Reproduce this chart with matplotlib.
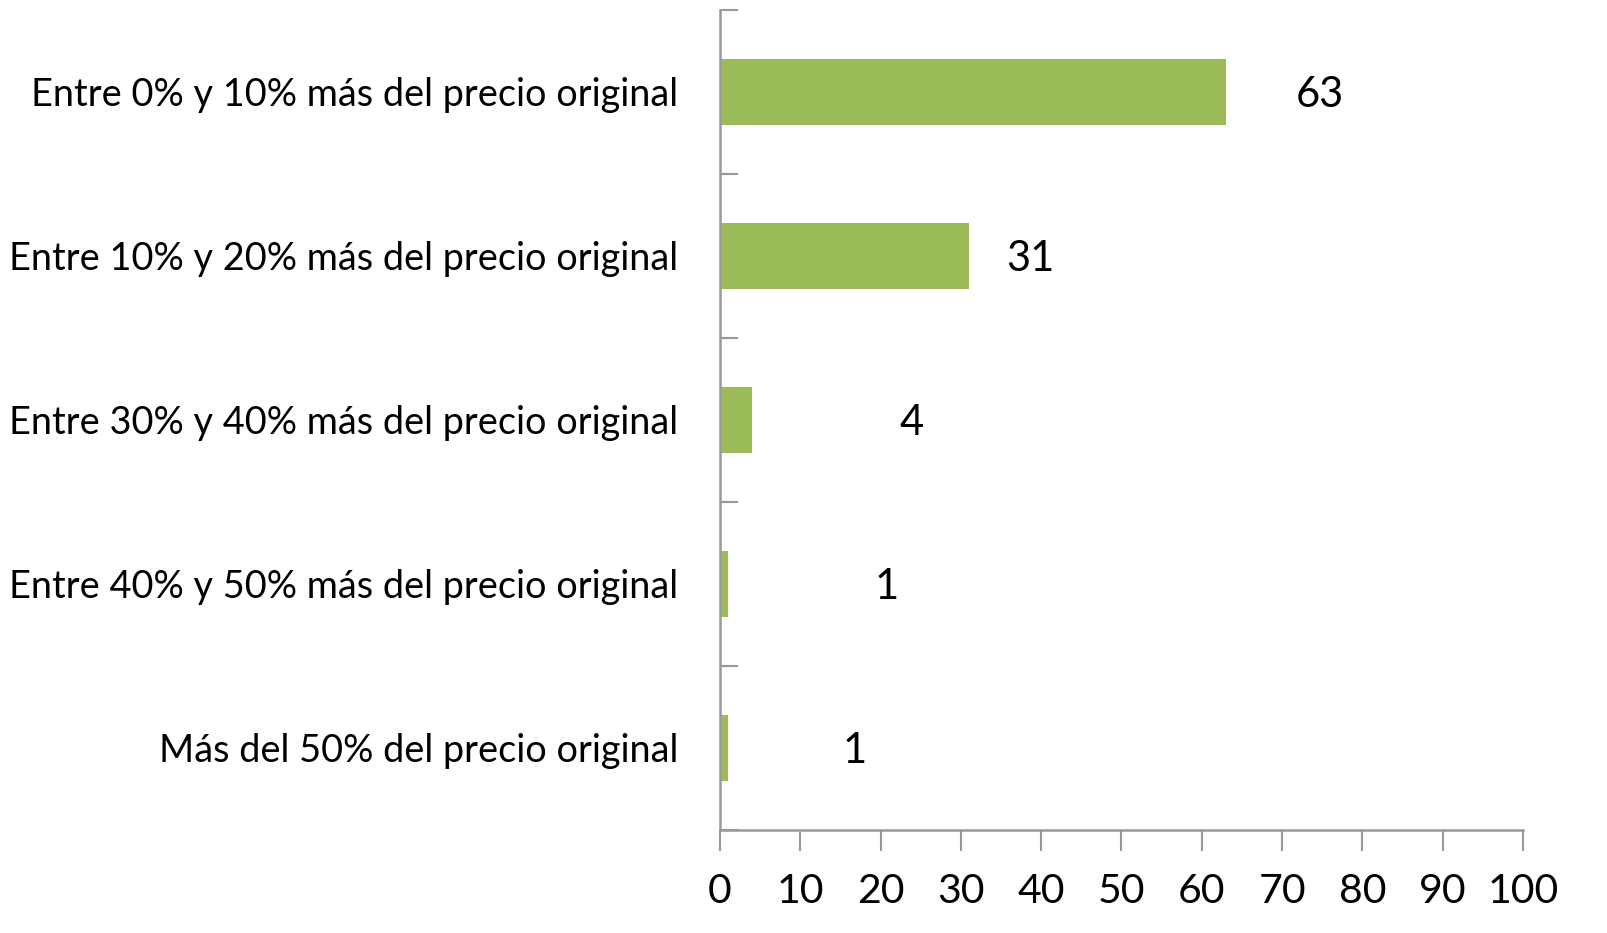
import numpy as np
import matplotlib.pyplot as plt
from matplotlib.ticker import FixedLocator

# ------------------ DATOS ------------------
categorias = [
    "Entre 0% y 10% más del precio original",
    "Entre 10% y 20% más del precio original",
    "Entre 30% y 40% más del precio original",
    "Entre 40% y 50% más del precio original",
    "Más del 50% del precio original",
]
valores = [63, 31, 4, 1, 1]
# desplazamiento de las etiquetas (como las dejó Excel)
desplaz_etiqueta = [11.7, 7.6, 19.8, 19.7, 15.8]
# -------------------------------------------

VERDE = "#9BBB59"
GRIS = "#999999"

plt.rcParams["font.family"] = ["Lato", "DejaVu Sans"]

fig = plt.figure(figsize=(16.08, 9.33), dpi=100)
ax = fig.add_axes([0.4478, 0.1104, 0.4993, 0.8789])

y = np.arange(len(categorias))
ax.barh(y, valores, height=0.4, color=VERDE)

for yi, v, d in zip(y, valores, desplaz_etiqueta):
    ax.text(v + d, yi + 0.02, str(v), ha="center", va="center", fontsize=30)

ax.set_ylim(len(categorias) - 0.5, -0.5)
ax.set_xlim(0, 100)
ax.set_xticks(np.arange(0, 101, 10))
ax.set_yticks(y)
ax.set_yticklabels(categorias, fontsize=27.3)
ax.yaxis.set_minor_locator(FixedLocator(np.arange(-0.5, len(categorias), 1)))

ax.tick_params(axis="y", which="major", length=0, pad=30)
ax.tick_params(axis="y", which="minor", direction="in", length=13, width=1.5, color=GRIS)
ax.tick_params(axis="x", direction="out", length=15, width=1.5, color=GRIS,
               labelsize=29.5, pad=16)

for lado in ["top", "right"]:
    ax.spines[lado].set_visible(False)
for lado in ["left", "bottom"]:
    ax.spines[lado].set_color(GRIS)
    ax.spines[lado].set_linewidth(1.8)

fig.savefig("out.png", dpi=100)
